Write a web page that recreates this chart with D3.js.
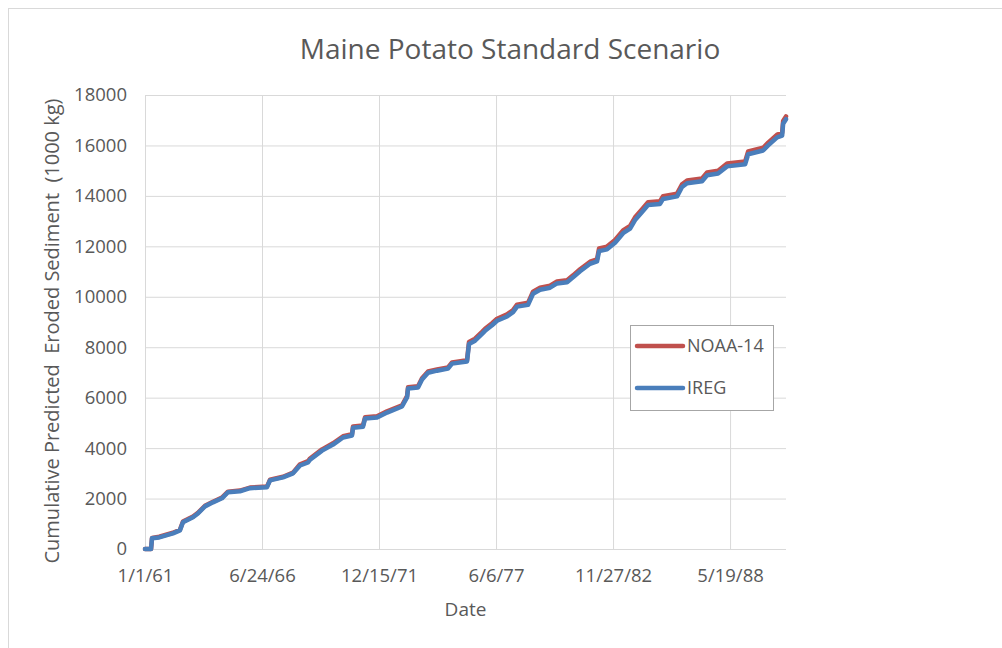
<!DOCTYPE html>
<html>
<head>
<meta charset="utf-8">
<script src="https://cdn.jsdelivr.net/npm/d3@7"></script>
<style>
  body { margin: 0; background: #fff; }
  svg { display: block; font-family: "Open Sans", sans-serif; }
</style>
</head>
<body>
<svg id="chart" width="1002" height="648"></svg>
<script>
// chart data
const dates = [
    "1961-01-01", "1961-04-14", "1961-05-01", "1961-09-01", "1962-04-24", "1962-08-21",
    "1962-10-12", "1963-04-01", "1963-06-25", "1963-10-23", "1964-03-07", "1964-08-08",
    "1964-11-19", "1965-06-12", "1965-11-30", "1966-09-17", "1966-11-08", "1967-06-18",
    "1967-12-06", "1968-04-04", "1968-08-18", "1968-09-22", "1969-04-15", "1969-10-20",
    "1970-04-09", "1970-09-09", "1970-09-27", "1971-03-16", "1971-04-20", "1971-11-11",
    "1972-04-30", "1973-01-11", "1973-04-07", "1973-04-24", "1973-10-12", "1973-12-19",
    "1974-04-01", "1974-09-01", "1975-03-08", "1975-05-16", "1976-01-27", "1976-03-01",
    "1976-06-12", "1976-10-10", "1976-11-30", "1977-03-30", "1977-06-23", "1977-12-11",
    "1978-03-24", "1978-05-31", "1978-12-05", "1979-02-28", "1979-06-28", "1979-12-16",
    "1980-04-14", "1980-10-02", "1981-01-12", "1981-05-12", "1981-10-30", "1982-02-26",
    "1982-04-02", "1982-08-16", "1982-12-31", "1983-05-17", "1983-09-14", "1983-12-08",
    "1984-04-06", "1984-07-17", "1985-02-07", "1985-03-31", "1985-11-25", "1986-02-18",
    "1986-05-15", "1987-01-26", "1987-04-22", "1987-10-27", "1988-03-29", "1989-01-31",
    "1989-03-24", "1989-12-05", "1990-03-01", "1990-08-01", "1990-10-26", "1990-11-12",
    "1990-12-31"
];

const noaa14 = [
    0, 0, 440, 485, 645, 765,
    1085, 1285, 1435, 1715, 1875, 2035,
    2275, 2315, 2435, 2475, 2745, 2865,
    3025, 3360, 3480, 3590, 3950, 4190,
    4470, 4550, 4860, 4900, 5220, 5260,
    5460, 5700, 6060, 6410, 6450, 6770,
    7040, 7120, 7200, 7400, 7480, 8210,
    8340, 8610, 8730, 8950, 9130, 9300,
    9470, 9690, 9760, 10200, 10360, 10440,
    10610, 10660, 10850, 11090, 11390, 11480,
    11920, 11990, 12250, 12630, 12810, 13150,
    13470, 13750, 13790, 13990, 14090, 14460,
    14610, 14690, 14930, 15000, 15280, 15360,
    15760, 15910, 16110, 16430, 16500, 16970,
    17150
];

const ireg = [
    0, 0, 425, 460, 620, 740,
    1060, 1260, 1410, 1690, 1850, 2010,
    2250, 2290, 2410, 2450, 2720, 2840,
    3000, 3310, 3430, 3540, 3900, 4140,
    4420, 4500, 4810, 4850, 5170, 5210,
    5410, 5650, 6010, 6360, 6400, 6720,
    6990, 7070, 7150, 7350, 7430, 8130,
    8260, 8530, 8650, 8870, 9050, 9220,
    9390, 9610, 9680, 10120, 10280, 10360,
    10530, 10580, 10770, 11010, 11310, 11400,
    11810, 11880, 12140, 12520, 12700, 13040,
    13360, 13640, 13680, 13880, 13980, 14350,
    14500, 14580, 14820, 14890, 15170, 15250,
    15650, 15800, 16000, 16320, 16390, 16860,
    17040
];

const seriesNames = ["NOAA-14", "IREG"];
const seriesColors = ["#c0504d", "#4a7ebb"];

const xTickDates = ["1961-01-01", "1966-06-24", "1971-12-15", "1977-06-06", "1982-11-27", "1988-05-19"];
const xTickLabels = ["1/1/61", "6/24/66", "12/15/71", "6/6/77", "11/27/82", "5/19/88"];
const xDomain = ["1961-01-01", "1990-12-31"];
const yTicks = [0, 2000, 4000, 6000, 8000, 10000, 12000, 14000, 16000, 18000];

// layout
const LEFT = 145, RIGHT = 786, TOP = 95, BOTTOM = 549;
const TEXT_COLOR = "#595959";
const GRID_COLOR = "#d9d9d9";

const parseDate = d3.timeParse("%Y-%m-%d");

const svg = d3.select("#chart");

// outer chart frame
svg.append("rect")
   .attr("x", 8.5)
   .attr("y", 8.5)
   .attr("width", 1100)
   .attr("height", 700)
   .attr("fill", "#fff")
   .attr("stroke", GRID_COLOR)
   .attr("stroke-width", 1);

const xScale = d3.scaleTime()
                 .domain(xDomain.map(parseDate))
                 .range([LEFT, RIGHT]);

const yScale = d3.scaleLinear()
                 .domain([0, 18000])
                 .range([BOTTOM, TOP]);

// gridlines + axes
const xAxis = d3.axisBottom(xScale)
                .tickValues(xTickDates.map(parseDate))
                .tickFormat((d, i) => xTickLabels[i])
                .tickSize(-(BOTTOM - TOP))
                .tickPadding(20);

const yAxis = d3.axisLeft(yScale)
                .tickValues(yTicks)
                .tickFormat(d3.format("d"))
                .tickSize(-(RIGHT - LEFT))
                .tickPadding(18);

const gx = svg.append("g")
              .attr("id", "x-axis")
              .attr("transform", "translate(0, " + BOTTOM + ")")
              .call(xAxis);

const gy = svg.append("g")
              .attr("id", "y-axis")
              .attr("transform", "translate(" + LEFT + ", 0)")
              .call(yAxis);

[gx, gy].forEach(g => {
    g.select(".domain").remove();
    g.selectAll(".tick line")
     .attr("stroke", GRID_COLOR)
     .attr("stroke-width", 1);
    g.selectAll(".tick text")
     .attr("fill", TEXT_COLOR)
     .style("font-size", "18.5px")
     .style("font-family", "'Open Sans', sans-serif");
});

// series lines
const series = [noaa14, ireg];
const line = d3.line()
               .x((d, i) => xScale(parseDate(dates[i])))
               .y(d => yScale(d));

series.forEach((values, k) => {
    svg.append("path")
       .datum(values)
       .attr("fill", "none")
       .attr("stroke", seriesColors[k])
       .attr("stroke-width", 4.5)
       .attr("stroke-linejoin", "round")
       .attr("stroke-linecap", "round")
       .attr("d", line);
});

// title
svg.append("text")
   .attr("x", 510)
   .attr("y", 59)
   .attr("text-anchor", "middle")
   .attr("fill", TEXT_COLOR)
   .style("font-size", "28px")
   .text("Maine Potato Standard Scenario");

// axis titles
svg.append("text")
   .attr("x", (LEFT + RIGHT) / 2)
   .attr("y", 616)
   .attr("text-anchor", "middle")
   .attr("fill", TEXT_COLOR)
   .style("font-size", "19px")
   .text("Date");

svg.append("text")
   .attr("transform", "translate(59, 331) rotate(-90)")
   .attr("text-anchor", "middle")
   .attr("fill", TEXT_COLOR)
   .style("font-size", "20px")
   .style("white-space", "pre")
   .attr("xml:space", "preserve")
   .text("Cumulative Predicted  Eroded Sediment  (1000 kg)");

// legend
const legend = svg.append("g").attr("id", "legend");
legend.append("rect")
      .attr("x", 630.5)
      .attr("y", 325.5)
      .attr("width", 143)
      .attr("height", 85)
      .attr("fill", "#fff")
      .attr("stroke", "#a6a6a6")
      .attr("stroke-width", 1);

seriesNames.forEach((name, k) => {
    const yPos = 346 + k * 42;
    legend.append("line")
          .attr("x1", 637)
          .attr("x2", 683)
          .attr("y1", yPos)
          .attr("y2", yPos)
          .attr("stroke", seriesColors[k])
          .attr("stroke-width", 4.5)
          .attr("stroke-linecap", "round");
    legend.append("text")
          .attr("x", 687)
          .attr("y", yPos)
          .attr("dy", "0.35em")
          .attr("fill", TEXT_COLOR)
          .style("font-size", "18px")
          .text(name);
});
</script>
</body>
</html>
